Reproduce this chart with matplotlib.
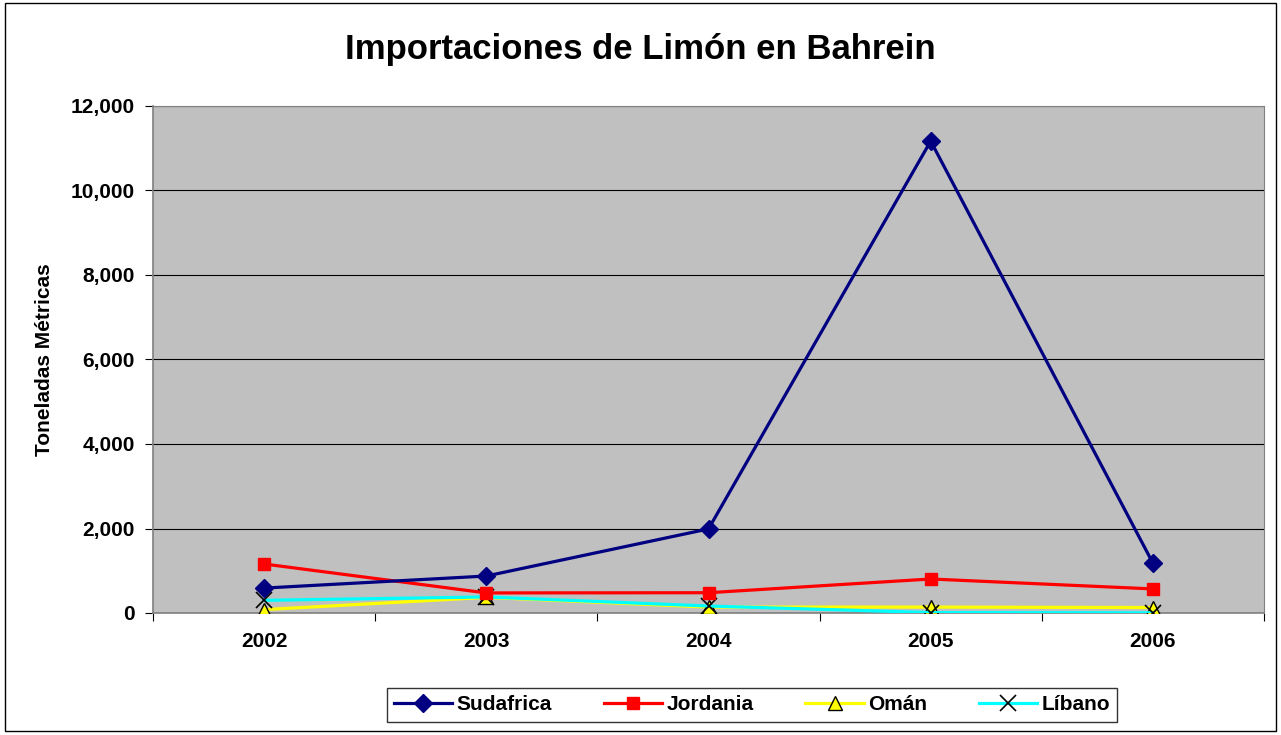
import matplotlib.pyplot as plt
import numpy as np

plt.rcParams['font.family'] = ['Liberation Sans', 'DejaVu Sans']
plt.rcParams['font.weight'] = 'bold'

years = ['2002', '2003', '2004', '2005', '2006']
sudafrica = [590, 875, 1990, 11170, 1180]
jordania = [1160, 475, 480, 805, 570]
oman = [80, 370, 140, 140, 130]
libano = [300, 380, 165, 10, 5]

fig = plt.figure(figsize=(12.81, 7.35), dpi=100)
# marco exterior del grafico
fig.patches.append(plt.Rectangle((0.004, 0.006), 0.992, 0.99, transform=fig.transFigure,
                                 fill=False, edgecolor='black', linewidth=1))
ax = fig.add_axes([153 / 1281, 1 - 613 / 735, (1264 - 153) / 1281, (613 - 106) / 735])
ax.set_facecolor('#C0C0C0')

x = np.arange(len(years))
ax.plot(x, sudafrica, color='#000080', lw=2.3, marker='D', ms=9, label='Sudafrica', zorder=5)
ax.plot(x, jordania, color='#FF0000', lw=2.3, marker='s', ms=9, label='Jordania', zorder=4)
ax.plot(x, oman, color='#FFFF00', lw=2.3, marker='^', ms=10, mfc='#FFFF00', mec='black',
        mew=1, label='Omán', zorder=3)
ax.plot(x, libano, color='#00FFFF', lw=2.3, marker='x', ms=11, mec='black', mew=1.2,
        label='Líbano', zorder=3)

ax.set_xlim(-0.5, len(years) - 0.5)
ax.set_ylim(0, 12000)
ax.set_yticks(np.arange(0, 12001, 2000))
ax.set_yticklabels([f'{v:,}' for v in range(0, 12001, 2000)], fontsize=15, fontweight='bold')
ax.yaxis.grid(True, color='black', lw=0.8)
ax.set_axisbelow(True)

# marcas del eje x entre categorias
ax.set_xticks(np.arange(-0.5, len(years), 1))
ax.set_xticklabels([])
ax.set_xticks(x, minor=True)
ax.set_xticklabels(years, minor=True, fontsize=15, fontweight='bold')
ax.tick_params(axis='x', which='minor', length=0, pad=14)
ax.tick_params(axis='x', which='major', length=6, direction='out', color='black')
ax.tick_params(axis='y', length=6, direction='out', color='black', pad=7)

for s in ['top', 'right']:
    ax.spines[s].set_color('#808080')
for s in ['left', 'bottom']:
    ax.spines[s].set_color('#808080')
    ax.spines[s].set_linewidth(1.2)

ax.set_ylabel('Toneladas Métricas', fontsize=15, fontweight='bold', labelpad=12)
fig.suptitle('Importaciones de Limón en Bahrein', fontsize=25, fontweight='bold',
             y=1 - 50 / 735, va='center')

leg = fig.legend(loc='center', bbox_to_anchor=(752 / 1281, 1 - 705 / 735), ncol=4,
                 frameon=True, fancybox=False, edgecolor='black', fontsize=15,
                 handlelength=2.8, handletextpad=0.2, columnspacing=2.5,
                 borderpad=0.35, borderaxespad=0)
leg.get_frame().set_linewidth(1)

fig.savefig('out.png', dpi=100)
